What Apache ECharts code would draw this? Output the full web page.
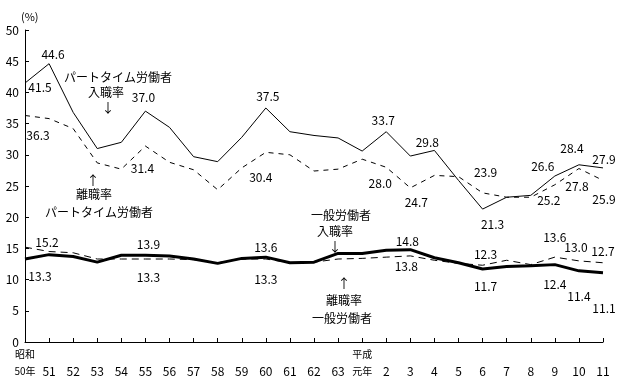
<!DOCTYPE html>
<html><head><meta charset="utf-8">
<script src="https://cdn.jsdelivr.net/npm/echarts@6/dist/echarts.min.js"></script>
<style>html,body{margin:0;padding:0;background:#fff}#c{width:619px;height:380px}</style>
</head><body><div id="c"></div>
<script>
const categories = ['50','51','52','53','54','55','56','57','58','59','60','61','62','63','元','2','3','4','5','6','7','8','9','10','11'];
const yTicks = [0,5,10,15,20,25,30,35,40,45,50];
const partEntry = [41.5,44.6,36.8,31.0,32.0,37.0,34.4,29.7,28.9,32.8,37.5,33.7,33.1,32.7,30.6,33.7,29.8,30.7,25.9,21.3,23.2,23.5,26.6,28.4,27.9];
const partExit  = [36.3,35.8,34.2,28.7,27.7,31.4,28.8,27.6,24.4,27.9,30.4,30.0,27.4,27.7,29.3,28.0,24.7,26.7,26.5,23.9,23.2,23.2,25.2,27.8,25.9];
const genEntry  = [13.3,14.0,13.7,12.8,13.9,13.9,13.8,13.3,12.6,13.4,13.6,12.7,12.8,14.2,14.2,14.7,14.8,13.5,12.7,11.7,12.1,12.2,12.4,11.4,11.1];
const genExit   = [15.2,14.5,14.3,13.3,13.3,13.3,13.3,13.2,12.7,13.3,13.3,12.7,12.8,13.3,13.4,13.6,13.8,13.1,12.6,12.3,13.1,12.4,13.6,13.0,12.7];

// label placements (index -> pixel offset from point)
const partEntryLab = {0:[15,4],1:[4,-9],5:[-2,-14],10:[2,-12],15:[-3,-11],16:[17,-14],19:[10,15],22:[-12,-10],23:[-7,-16],24:[1,-8]};
const partExitLab  = {0:[13,20],5:[-3,22],10:[-5,25],15:[-6,16],16:[6,15],19:[3,-20],22:[-6,16],23:[-2,18],24:[1,19]};
const genEntryLab  = {0:[15,17],5:[3,-11],10:[0,-10],16:[-3,-8],19:[3,17],22:[0,20],23:[0,26],24:[1,36]};
const genExitLab   = {0:[22,-5],5:[3,18],10:[0,20],16:[-4,11],19:[3,-11],22:[0,-20],23:[-3,-13],24:[0,-11]};

const FONT = '"Noto Sans CJK JP", "Noto Sans", sans-serif';
function build(vals, labs){
  return vals.map((v,i)=>{
    const o = {value:v};
    if (labs[i]) o.label = {show:true, position:'inside', offset:labs[i], formatter: v.toFixed(1)};
    return o;
  });
}
const labelBase = {show:false, color:'#000', fontSize:12, fontFamily:FONT};
function lineSeries(name, vals, labs, width, type){
  return {name, type:'line', data:build(vals,labs), symbol:'circle', symbolSize:0.1, showSymbol:true,
    itemStyle:{color:'transparent', borderWidth:0}, lineStyle:{color:'#000', width, type},
    label:labelBase, emphasis:{disabled:true}, animation:false, z: width>2?3:2};
}

const chart = echarts.init(document.getElementById('c'), null, {renderer:'canvas'});
const txt = (t,x,y,size) => ({type:'text', x, y, style:{text:t, x:0, y:0, fill:'#000', font:(size||12)+'px '+FONT, textAlign:'center', textVerticalAlign:'middle'}});
chart.setOption({
  animation:false,
  grid:{left:25, right:16, top:30, bottom:30},
  xAxis:{type:'category', data:categories, boundaryGap:false,
    axisLine:{lineStyle:{color:'#000', width:1}},
    axisTick:{inside:true, length:4, lineStyle:{color:'#000'}, alignWithLabel:true},
    axisLabel:{color:'#000', fontSize:12, fontFamily:FONT, margin:4, interval:0, lineHeight:17,
      formatter:(v,i)=> v==='50' ? '{era|昭和}\n{sm|50年}' : (v==='元' ? '{era|平成}\n{sm|元年}' : '\n'+v),
      rich:{era:{fontSize:10, fontFamily:FONT, color:'#000', lineHeight:17}, sm:{fontSize:10, fontFamily:FONT, color:'#000', lineHeight:17}}},
    splitLine:{show:false}},
  yAxis:{type:'value', min:yTicks[0], max:yTicks[yTicks.length-1], interval:5,
    name:'(%)', nameLocation:'end', nameGap:8, nameTextStyle:{color:'#000', fontSize:11, fontFamily:FONT, align:'left', padding:[0,0,0,-4]},
    axisLine:{show:true, lineStyle:{color:'#000', width:1}},
    axisTick:{show:true, inside:true, length:4, lineStyle:{color:'#000'}},
    axisLabel:{color:'#000', fontSize:12, fontFamily:FONT, margin:6},
    splitLine:{show:false}},
  series:[
    lineSeries('パートタイム労働者入職率', partEntry, partEntryLab, 1, 'solid'),
    lineSeries('パートタイム労働者離職率', partExit, partExitLab, 1, [5,5]),
    lineSeries('一般労働者入職率', genEntry, genEntryLab, 3, 'solid'),
    lineSeries('一般労働者離職率', genExit, genExitLab, 1, [7,5])
  ],
  graphic:[
    txt('パートタイム労働者',118,77), txt('入職率',106,92), txt('↓',108,107,13),
    txt('↑',93,180,13), txt('離職率',94,194), txt('パートタイム労働者',99,212),
    txt('一般労働者',341,215), txt('入職率',335,231), txt('↓',335,246,13),
    txt('↑',344,283,13), txt('離職率',344,300), txt('一般労働者',342,318)
  ]
});
</script></body></html>
